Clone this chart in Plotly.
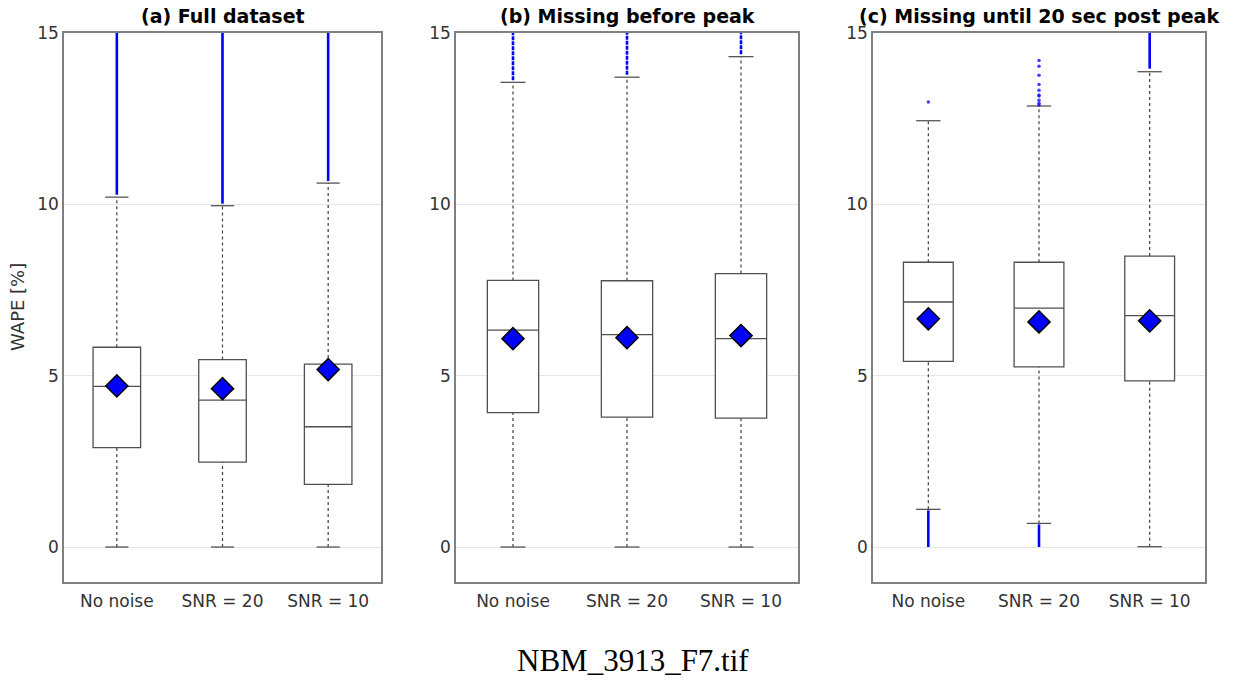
import plotly.graph_objects as go
from plotly.subplots import make_subplots

# ---------------- data ----------------
categories = ["No noise", "SNR = 20", "SNR = 10"]
titles = ["(a) Full dataset", "(b) Missing before peak", "(c) Missing until 20 sec post peak"]

# panel (a) Full dataset
q1_a = [2.90, 2.48, 1.83]
med_a = [4.69, 4.29, 3.51]
q3_a = [5.83, 5.47, 5.34]
mean_a = [4.70, 4.62, 5.18]
wlo_a = [0.0, 0.0, 0.0]
whi_a = [10.21, 9.96, 10.62]

# panel (b) Missing before peak
q1_b = [3.92, 3.79, 3.76]
med_b = [6.33, 6.20, 6.08]
q3_b = [7.78, 7.77, 7.98]
mean_b = [6.08, 6.11, 6.17]
wlo_b = [0.0, 0.0, 0.0]
whi_b = [13.56, 13.71, 14.31]

# panel (c) Missing until 20 sec post peak
q1_c = [5.42, 5.26, 4.85]
med_c = [7.15, 6.97, 6.75]
q3_c = [8.31, 8.31, 8.49]
mean_c = [6.66, 6.57, 6.60]
wlo_c = [1.10, 0.69, 0.01]
whi_c = [12.44, 12.87, 13.87]

# dense outlier bands (so many points they merge into a line): (low, high), None = no band
band_hi_a = [(10.28, 16.0), (10.02, 16.0), (10.68, 16.0)]
band_hi_b = [(13.62, 16.0), (13.78, 16.0), (14.38, 16.0)]
band_hi_c = [None, None, (13.96, 16.0)]
band_lo_c = [(0.0, 1.07), (0.0, 0.66), None]

# sparse individual outliers (panel c)
pts_c_nonoise = [12.99]
pts_c_snr20 = [12.90, 12.95, 13.04, 13.16, 13.19, 13.33, 13.50, 13.77, 14.03, 14.20]

caption = "NBM_3913_F7.tif"
ylabel = "WAPE [%]"

# ---------------- figure ----------------
BOX_W = 0.45
CAP_HALF = 0.11
BOX_LINE = "#505050"
WHISK = "#404040"
BLUE = "#0000ff"

fig = make_subplots(rows=1, cols=3)

panels = [
    (q1_a, med_a, q3_a, mean_a, wlo_a, whi_a, band_hi_a, [None] * 3, [[], [], []], "solid"),
    (q1_b, med_b, q3_b, mean_b, wlo_b, whi_b, band_hi_b, [None] * 3, [[], [], []], "4px,1px"),
    (q1_c, med_c, q3_c, mean_c, wlo_c, whi_c, band_hi_c, band_lo_c, [pts_c_nonoise, pts_c_snr20, []], "solid"),
]

xpos = [1, 2, 3]

for p, (q1, med, q3, mean, wlo, whi, bhi, blo, pts, bdash) in enumerate(panels):
    col = p + 1
    for i in range(3):
        x = xpos[i]
        # whiskers (dotted)
        for a, b in ((q3[i], whi[i]), (wlo[i], q1[i])):
            fig.add_trace(go.Scatter(x=[x, x], y=[a, b], mode="lines",
                                     line=dict(color=WHISK, width=1.2, dash="dot"),
                                     showlegend=False, hoverinfo="skip"), row=1, col=col)
        # caps
        for v in (whi[i], wlo[i]):
            fig.add_trace(go.Scatter(x=[x - CAP_HALF, x + CAP_HALF], y=[v, v], mode="lines",
                                     line=dict(color="#555555", width=1.3),
                                     showlegend=False, hoverinfo="skip"), row=1, col=col)
        # outlier bands
        for band in (bhi[i], blo[i]):
            if band is not None:
                fig.add_trace(go.Scatter(x=[x, x], y=list(band), mode="lines",
                                         line=dict(color=BLUE, width=2.6, dash=bdash),
                                         showlegend=False, hoverinfo="skip"), row=1, col=col)
        if pts[i]:
            fig.add_trace(go.Scatter(x=[x] * len(pts[i]), y=pts[i], mode="markers",
                                     marker=dict(color=BLUE, size=3.5, opacity=0.75),
                                     showlegend=False, hoverinfo="skip"), row=1, col=col)
    # boxes
    fig.add_trace(go.Box(x=xpos, q1=q1, median=med, q3=q3, lowerfence=q1, upperfence=q3,
                         width=BOX_W, fillcolor="white",
                         line=dict(color=BOX_LINE, width=1.3), whiskerwidth=0,
                         boxpoints=False, showlegend=False, hoverinfo="skip"), row=1, col=col)
    # means
    fig.add_trace(go.Scatter(x=xpos, y=mean, mode="markers",
                             marker=dict(symbol="diamond", size=17, color=BLUE,
                                         line=dict(color="black", width=1.5)),
                             showlegend=False, hoverinfo="skip"), row=1, col=col)

W, H = 1233, 681
xdoms = [(64, 381), (456, 798), (873, 1205)]
ytop, ybot = 33, 582

axis_common = dict(showline=True, mirror=True, linecolor="#808080", linewidth=1.5,
                   ticks="", zeroline=False, automargin=False)
for k, (l, r) in enumerate(xdoms):
    xa = "xaxis" if k == 0 else f"xaxis{k+1}"
    ya = "yaxis" if k == 0 else f"yaxis{k+1}"
    fig.layout[xa].update(domain=[l / W, r / W], range=[0.5, 3.5],
                          tickvals=xpos, ticktext=categories, showgrid=False,
                          ticklabelstandoff=3,
                          tickfont=dict(family="DejaVu Sans", size=17, color="#333333"),
                          **axis_common)
    fig.layout[ya].update(domain=[1 - ybot / H, 1 - ytop / H], range=[-1.02, 15],
                          tickvals=[0, 5, 10, 15], showgrid=True, gridcolor="#e6e6e6",
                          gridwidth=1,
                          tickfont=dict(family="DejaVu Sans", size=17, color="#333333"),
                          **axis_common)
    fig.add_annotation(text=f"<b>{titles[k]}</b>", xref="paper", yref="paper",
                       x=(l + r) / 2 / W, y=1 - 29 / H, xanchor="center", yanchor="bottom",
                       showarrow=False,
                       font=dict(family="DejaVu Sans", size=19, color="black"))

fig.add_annotation(text=ylabel, xref="paper", yref="paper", x=17.5 / W, y=1 - 307.5 / H,
                   textangle=-90, xanchor="center", yanchor="middle", showarrow=False,
                   font=dict(family="DejaVu Sans", size=18, color="#333333"))
fig.add_annotation(text=caption, xref="paper", yref="paper", x=632.5 / W, y=1 - 660 / H,
                   xanchor="center", yanchor="middle", showarrow=False,
                   font=dict(family="Liberation Serif", size=31, color="black"))

fig.update_layout(width=W, height=H, margin=dict(l=0, r=0, t=0, b=0),
                  paper_bgcolor="white", plot_bgcolor="white")

fig.write_html("out.html")
